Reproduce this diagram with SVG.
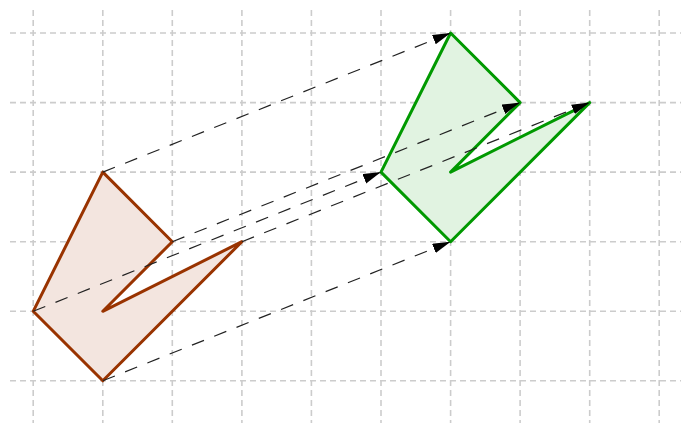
<svg xmlns="http://www.w3.org/2000/svg" width="681" height="423" viewBox="0 0 681 423">
<style>
.grid line{stroke:#cccccc;stroke-width:1.6;stroke-dasharray:6,4;}
.conn{stroke:#222;stroke-width:1.2;stroke-dasharray:13,11;fill:none;marker-end:url(#ah);}
.brown{fill:#f3e5df;stroke:#993300;stroke-width:3;stroke-linejoin:round;}
.green{fill:#e1f3e1;stroke:#009900;stroke-width:3;stroke-linejoin:round;}
</style>
<defs>
<marker id="ah" markerUnits="userSpaceOnUse" markerWidth="20" markerHeight="12" refX="18" refY="5" orient="auto">
<path d="M0,0 L18,5 L0,10 Z" fill="#000"/>
</marker>
</defs>
<rect width="681" height="423" fill="#fff"/>
<g class="grid">
<line x1="33.2" y1="10" x2="33.2" y2="423"/>
<line x1="102.8" y1="10" x2="102.8" y2="423"/>
<line x1="172.3" y1="10" x2="172.3" y2="423"/>
<line x1="241.9" y1="10" x2="241.9" y2="423"/>
<line x1="311.4" y1="10" x2="311.4" y2="423"/>
<line x1="381" y1="10" x2="381" y2="423"/>
<line x1="450.6" y1="10" x2="450.6" y2="423"/>
<line x1="520.1" y1="10" x2="520.1" y2="423"/>
<line x1="589.7" y1="10" x2="589.7" y2="423"/>
<line x1="659.2" y1="10" x2="659.2" y2="423"/>
<line x1="10" y1="33" x2="681" y2="33"/>
<line x1="10" y1="102.6" x2="681" y2="102.6"/>
<line x1="10" y1="172.1" x2="681" y2="172.1"/>
<line x1="10" y1="241.7" x2="681" y2="241.7"/>
<line x1="10" y1="311.3" x2="681" y2="311.3"/>
<line x1="10" y1="380.8" x2="681" y2="380.8"/>
</g>
<g id="original">
<polygon class="brown" points="102.8,172.1 172.3,241.7 102.8,311.3 241.9,241.7 102.8,380.8 33.2,311.3"/>
</g>
<g id="image">
<polygon class="green" points="450.6,33 520.1,102.6 450.6,172.1 589.7,102.6 450.6,241.7 381,172.1"/>
</g>
<g id="connectors">
<line class="conn" x1="102.8" y1="172.1" x2="450.6" y2="33"/>
<line class="conn" x1="172.3" y1="241.7" x2="520.1" y2="102.6"/>
<line class="conn" x1="241.9" y1="241.7" x2="589.7" y2="102.6"/>
<line class="conn" x1="102.8" y1="380.8" x2="450.6" y2="241.7"/>
<line class="conn" x1="33.2" y1="311.3" x2="381" y2="172.1"/>
</g>
</svg>
